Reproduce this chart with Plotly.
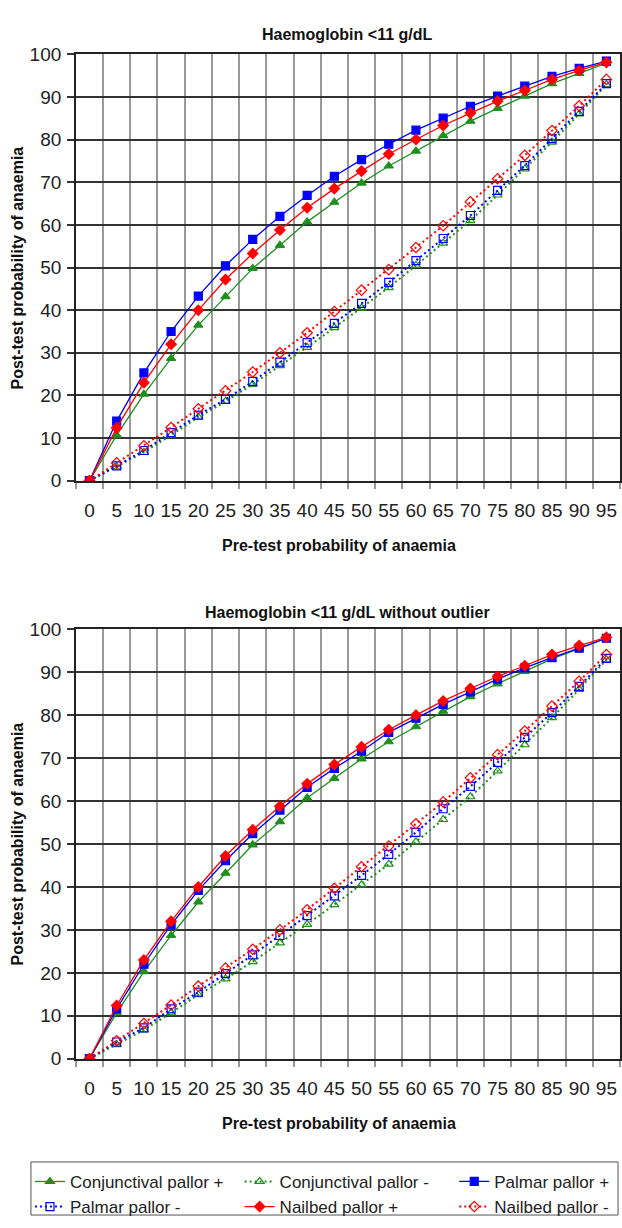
import plotly.graph_objects as go

# Pre-test probability categories (%)
pretest = ["0", "5", "10", "15", "20", "25", "30", "35", "40", "45",
           "50", "55", "60", "65", "70", "75", "80", "85", "90", "95"]

# Post-test probabilities (%), shared by both panels
conj_pos = [0, 10.7, 20.3, 28.7, 36.5, 43.2, 49.8, 55.2, 60.7, 65.3,
            69.8, 73.8, 77.3, 80.9, 84.3, 87.3, 90.2, 93.1, 95.5, 97.9]
conj_neg = [0, 3.3, 6.7, 10.7, 14.9, 18.6, 22.6, 27.0, 31.3, 35.9,
            40.5, 45.3, 50.5, 55.7, 61.0, 67.0, 73.1, 79.4, 86.0, 92.9]
nail_pos = [0, 12.4, 23.0, 32.0, 40.0, 47.2, 53.3, 58.8, 64.0, 68.5,
            72.6, 76.6, 80.0, 83.3, 86.2, 89.0, 91.5, 94.1, 96.2, 98.1]
nail_neg = [0, 4.2, 8.2, 12.5, 16.9, 21.1, 25.5, 30.0, 34.7, 39.7,
            44.7, 49.5, 54.7, 59.8, 65.4, 70.8, 76.3, 82.1, 87.9, 94.1]

# Palmar pallor, all studies
palm_pos_all = [0, 14.0, 25.3, 35.0, 43.3, 50.4, 56.6, 62.0, 66.9, 71.4,
                75.3, 78.9, 82.2, 85.0, 87.8, 90.2, 92.5, 94.8, 96.7, 98.4]
palm_neg_all = [0, 3.5, 7.1, 11.3, 15.4, 19.1, 23.3, 27.8, 32.4, 36.9,
                41.6, 46.5, 51.6, 56.8, 62.2, 68.1, 73.9, 80.2, 86.6, 93.1]

# Palmar pallor, outlier removed
palm_pos_no = [0, 11.6, 22.0, 31.2, 39.2, 46.1, 52.4, 57.9, 63.2, 67.6,
               71.6, 76.0, 79.3, 82.5, 85.4, 88.4, 91.0, 93.4, 95.6, 97.9]
palm_neg_no = [0, 3.9, 7.2, 11.6, 15.5, 19.8, 24.2, 28.7, 33.3, 37.9,
               42.7, 47.6, 52.7, 58.2, 63.4, 69.0, 74.8, 80.6, 86.7, 93.2]

GREEN, BLUE, RED = "#1f8f1f", "#0000ff", "#ff0000"
FONT = "Liberation Sans, Arial, sans-serif"
W, H = 622, 1228

panels = [
    ("x", "y", [conj_pos, conj_neg, palm_pos_all, palm_neg_all, nail_pos, nail_neg], True),
    ("x2", "y2", [conj_pos, conj_neg, palm_pos_no, palm_neg_no, nail_pos, nail_neg], False),
]
# name, colour, solid?, marker symbol, legend column
styles = [
    ("Conjunctival pallor +", GREEN, True, "triangle-up", "legend"),
    ("Conjunctival pallor -", GREEN, False, "triangle-up-open", "legend2"),
    ("Palmar pallor +", BLUE, True, "square", "legend3"),
    ("Palmar pallor -", BLUE, False, "square-open", "legend"),
    ("Nailbed pallor +", RED, True, "diamond", "legend2"),
    ("Nailbed pallor -", RED, False, "diamond-open", "legend3"),
]

fig = go.Figure()
for xa, ya, series, show in panels:
    for vals, (name, col, solid, sym, leg) in zip(series, styles):
        fig.add_trace(go.Scatter(
            x=pretest, y=vals, name=name, xaxis=xa, yaxis=ya,
            mode="lines+markers", showlegend=show, legend=leg,
            legendgroup=name,
            line=dict(color=col, width=1.3 if solid else 2,
                      dash="solid" if solid else "2px,3px"),
            marker=dict(symbol=sym, size=8, color=col,
                        line=dict(color=col, width=1.2)),
        ))

x0, x1 = 76 / W, 621 / W
top_dom = [1 - 479 / H, 1 - 45 / H]
bot_dom = [1 - 1067 / H, 1 - 630 / H]

xcommon = dict(type="category", categoryorder="array", categoryarray=pretest,
               range=[-0.5, 19.5], tickson="boundaries", showgrid=True,
               gridcolor="#9a9a9a", gridwidth=1.5, ticks="outside", ticklen=6,
               tickcolor="#9a9a9a", tickwidth=1.5, showline=True, linecolor="#222",
               linewidth=1.5, mirror=True, tickangle=0, ticklabelstandoff=12,
               tickfont=dict(family=FONT, size=19, color="#222"),
               zeroline=False, fixedrange=True, domain=[x0, x1])
ycommon = dict(range=[0, 100], dtick=10, showgrid=True, gridcolor="#333",
               gridwidth=1.5, ticks="outside", ticklen=7, tickcolor="#333",
               tickwidth=1.5, showline=True, linecolor="#222", linewidth=1.5,
               mirror=True, zeroline=False, ticklabelstandoff=2,
               tickfont=dict(family=FONT, size=19, color="#222"))

legfont = dict(family=FONT, size=17, color="#222")
legbase = dict(orientation="v", xanchor="left", yanchor="top",
               y=1 - 1174 / H, bgcolor="rgba(0,0,0,0)", borderwidth=0,
               font=legfont, itemwidth=30, tracegroupgap=0)

fig.update_layout(
    width=W, height=H, margin=dict(l=0, r=0, t=0, b=0),
    paper_bgcolor="white", plot_bgcolor="white",
    xaxis=dict(xcommon, anchor="y"),
    yaxis=dict(ycommon, domain=top_dom, anchor="x"),
    xaxis2=dict(xcommon, anchor="y2"),
    yaxis2=dict(ycommon, domain=bot_dom, anchor="x2"),
    legend=dict(legbase, x=30 / W),
    legend2=dict(legbase, x=240 / W),
    legend3=dict(legbase, x=455 / W),
    showlegend=True,
)

# frame around the three legend columns
fig.add_shape(type="rect", xref="paper", yref="paper",
              x0=31 / W, x1=619 / W, y0=1 - 1226 / H, y1=1 - 1172 / H,
              line=dict(color="#555", width=1), fillcolor="rgba(0,0,0,0)",
              layer="below")

bold = dict(family=FONT, size=16, color="#111")
notes = [
    ("<b>Haemoglobin <11 g/dL</b>", 348, 25, 0),
    ("<b>Haemoglobin <11 g/dL without outlier</b>", 348, 613, 0),
    ("<b>Pre-test probability of anaemia</b>", 340, 545, 0),
    ("<b>Pre-test probability of anaemia</b>", 340, 1133, 0),
    ("<b>Post-test probability of anaemia</b>", 18, 262, -90),
    ("<b>Post-test probability of anaemia</b>", 18, 848, -90),
]
for text, px, py, ang in notes:
    fig.add_annotation(text=text, x=px / W, y=1 - py / H, xref="paper", yref="paper",
                       showarrow=False, textangle=ang, font=bold,
                       xanchor="center", yanchor="middle")

fig.write_html("out.html")
